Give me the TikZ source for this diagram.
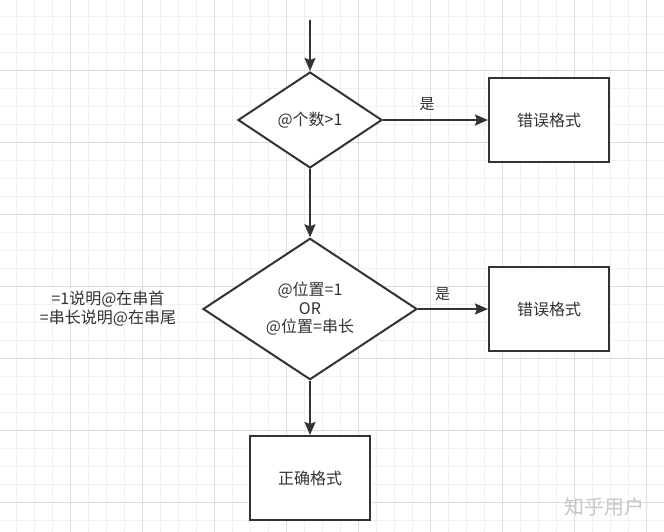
\documentclass[tikz,border=0pt]{standalone}
\usepackage{fontspec}
\setmainfont{Noto Sans CJK SC}
\usetikzlibrary{shapes.geometric,arrows.meta}
\definecolor{ink}{HTML}{333333}
\definecolor{txt}{HTML}{333333}
\definecolor{minorgrid}{HTML}{F0F0F0}
\definecolor{majorgrid}{HTML}{DDDDDD}
\tikzset{
  dia/.style={diamond, draw=ink, line width=2pt, fill=white, inner sep=0pt, font=\fontsize{16}{18.5}\selectfont, text=txt, align=center},
  box/.style={rectangle, draw=ink, line width=2pt, fill=white, minimum width=120pt, minimum height=84pt, inner sep=0pt, font=\fontsize{16}{18}\selectfont, text=txt},
  arr/.style={draw=ink, line width=2pt, -{Stealth[length=13pt,width=11pt,inset=2pt]}},
  lbl/.style={font=\fontsize{15}{18}\selectfont, text=txt},
}
\begin{document}
\begin{tikzpicture}[x=1pt,y=-1pt]
\fill[white] (0,0) rectangle (664,532);
\useasboundingbox (0,0) rectangle (664,532);
% grid
\foreach \k in {0,...,37} {
  \draw[minorgrid, line width=0.8pt] ({-2+18*\k},0) -- ({-2+18*\k},532);
  \draw[minorgrid, line width=0.8pt] (0,{-2+18*\k}) -- (664,{-2+18*\k});
}
\foreach \k in {0,...,9} {
  \draw[majorgrid, line width=0.8pt] ({-2+72*\k},0) -- ({-2+72*\k},532);
  \draw[majorgrid, line width=0.8pt] (0,{-2+72*\k}) -- (664,{-2+72*\k});
}
% nodes
\coordinate (start) at (310,20);
\node[dia, minimum width=144pt, minimum height=96pt] (d1) at (310,120) {@个数>1};
\node[box] (b1) at (549,120) {错误格式};
\node[dia, minimum width=214pt, minimum height=137pt] (d2) at (310,309) {@位置=1\\OR\\@位置=串长};
\node[box] (b2) at (549,309) {错误格式};
\node[box] (b3) at (310,478) {正确格式};
\node[font=\fontsize{16}{19}\selectfont, text=txt, align=center] (note) at (108,309) {=1说明@在串首\\=串长说明@在串尾};
\node[font=\fontsize{20}{22}\selectfont, text=black!22] (wm) at (604,507) {知乎用户};
% connectors
\draw[arr] (start) -- (d1.north);
\draw[arr] (d1.east) -- (b1.west) node[lbl, pos=0.42, above=5pt] {是};
\draw[arr] (d1.south) -- (d2.north);
\draw[arr] (d2.east) -- (b2.west) node[lbl, pos=0.35, above=4pt] {是};
\draw[arr] (d2.south) -- (b3.north);
\end{tikzpicture}
\end{document}
